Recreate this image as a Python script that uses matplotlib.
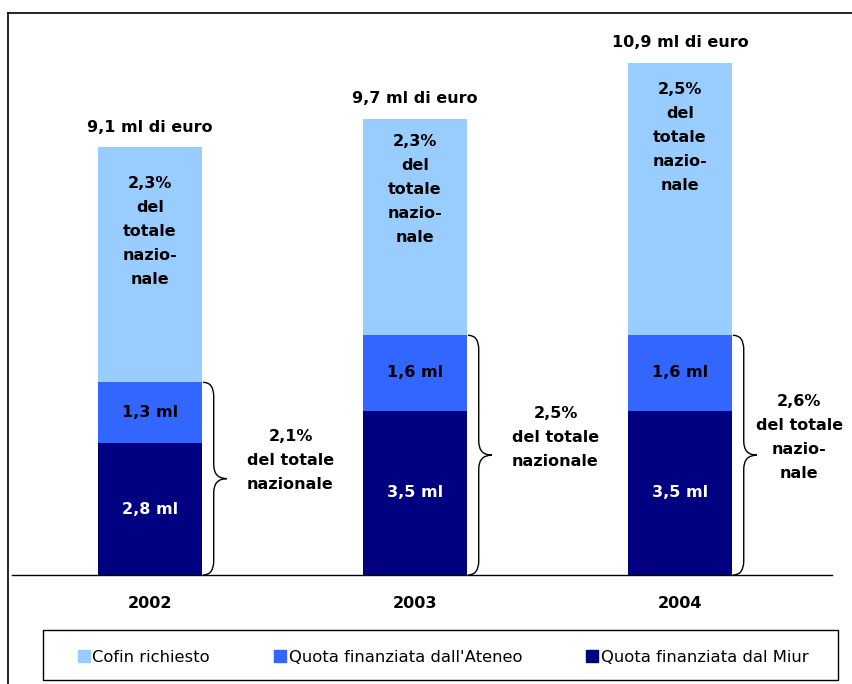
import matplotlib.pyplot as plt
from matplotlib.path import Path
from matplotlib.patches import PathPatch, Patch, Rectangle
from matplotlib.lines import Line2D

years = ['2002', '2003', '2004']
miur = [2.8, 3.5, 3.5]
ateneo = [1.3, 1.6, 1.6]
totale = [9.1, 9.7, 10.9]
cofin = [t - m - a for t, m, a in zip(totale, miur, ateneo)]

miur_labels = ['2,8 ml', '3,5 ml', '3,5 ml']
ateneo_labels = ['1,3 ml', '1,6 ml', '1,6 ml']
totale_labels = ['9,1 ml di euro', '9,7 ml di euro', '10,9 ml di euro']
cofin_labels = ['2,3%\ndel\ntotale\nnazio-\nnale',
                '2,3%\ndel\ntotale\nnazio-\nnale',
                '2,5%\ndel\ntotale\nnazio-\nnale']
brace_labels = ['2,1%\ndel totale\nnazionale',
                '2,5%\ndel totale\nnazionale',
                '2,6%\ndel totale\nnazio-\nnale']

c_light = '#99CCFF'
c_mid = '#3366FF'
c_dark = '#000080'

# layout only
label_drop = [1.8, 1.5, 1.6]
W, H = 853, 684

fig = plt.figure(figsize=(W / 100, H / 100), dpi=100)
ax = fig.add_axes([12 / W, 109 / H, 820 / W, 562 / H])
x = list(range(len(years)))
bw = 0.39

ax.bar(x, miur, bw, color=c_dark)
ax.bar(x, ateneo, bw, bottom=miur, color=c_mid)
bot2 = [m + a for m, a in zip(miur, ateneo)]
ax.bar(x, cofin, bw, bottom=bot2, color=c_light)

fs = 11.5
ls = 1.75
for i in x:
    ax.text(i, miur[i] / 2, miur_labels[i], ha='center', va='center',
            color='white', fontsize=fs, fontweight='bold')
    ax.text(i, miur[i] + ateneo[i] / 2, ateneo_labels[i], ha='center',
            va='center', color='black', fontsize=fs, fontweight='bold')
    ax.text(i, totale[i] + 0.43, totale_labels[i], ha='center', va='center',
            fontsize=fs, fontweight='bold')
    ax.text(i, totale[i] - label_drop[i], cofin_labels[i], ha='center',
            va='center', fontsize=fs, fontweight='bold', linespacing=ls)

    # brace next to the funded part
    x0 = i + bw / 2 + 0.005
    w = 0.09
    xm = x0 + w * 0.45
    top = bot2[i]
    mid = top / 2
    r = 0.3
    verts = [(x0, top), (xm, top), (xm, top - r), (xm, mid + r),
             (xm, mid), (x0 + w, mid), (xm, mid), (xm, mid - r),
             (xm, r), (xm, 0), (x0, 0)]
    codes = [Path.MOVETO, Path.CURVE3, Path.CURVE3, Path.LINETO,
             Path.CURVE3, Path.CURVE3, Path.CURVE3, Path.CURVE3,
             Path.LINETO, Path.CURVE3, Path.CURVE3]
    ax.add_patch(PathPatch(Path(verts, codes), fill=False, lw=1.0,
                           edgecolor='black'))
    ax.text(i + 0.53 if i < 2 else i + 0.45, mid + 0.38, brace_labels[i],
            ha='center', va='center', fontsize=fs, fontweight='bold',
            linespacing=ls)

ax.set_xlim(-138 / 265, 682 / 265)
ax.set_ylim(0, 562 / 47)
ax.set_xticks(x)
ax.set_xticklabels(years, fontsize=fs, fontweight='bold')
ax.tick_params(axis='x', length=0, pad=15)
ax.set_yticks([])
for s in ['top', 'left', 'right']:
    ax.spines[s].set_visible(False)
ax.spines['bottom'].set_linewidth(1.0)

# outer frame (left and top only)
fig.add_artist(Line2D([8 / W, 8 / W], [0, 1 - 13 / H], color='black', lw=1.2))
fig.add_artist(Line2D([8 / W, 1], [1 - 13 / H, 1 - 13 / H], color='black', lw=1.2))

# legend box
fig.add_artist(Rectangle((43 / W, 4 / H), 795 / W, 50 / H, transform=fig.transFigure,
                         fill=False, edgecolor='black', lw=1.0))
handles = [Patch(color=c_light, label='Cofin richiesto'),
           Patch(color=c_mid, label="Quota finanziata dall'Ateneo"),
           Patch(color=c_dark, label='Quota finanziata dal Miur')]
fig.legend(handles=handles, ncol=3, loc='center',
           bbox_to_anchor=(443 / W, 27 / H), frameon=False, fontsize=11.8,
           handlelength=0.75, handleheight=0.75, handletextpad=0.15,
           columnspacing=3.9, borderaxespad=0)

fig.savefig('out.png', dpi=100)
